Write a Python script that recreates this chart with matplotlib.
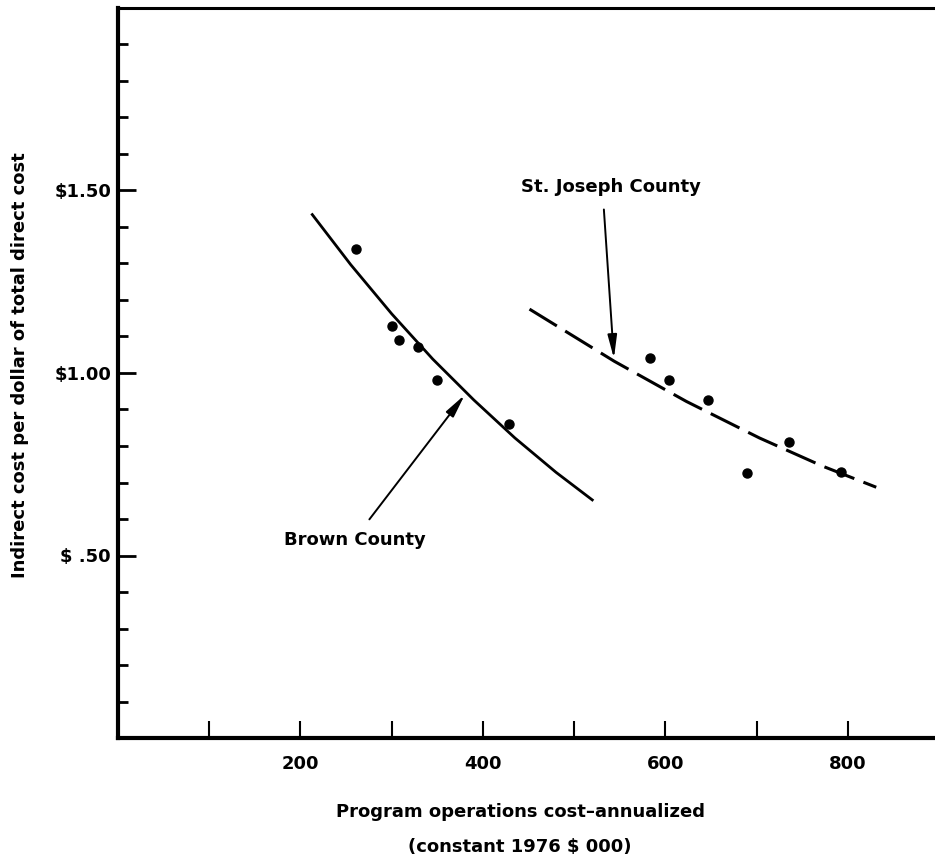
import numpy as np
import matplotlib
matplotlib.use("Agg")
import matplotlib.pyplot as plt

# observed points
brown_x = [261, 300, 308, 329, 350, 428]
brown_y = [1.34, 1.13, 1.09, 1.07, 0.98, 0.86]
stjoe_x = [583, 604, 647, 689, 735, 792]
stjoe_y = [1.04, 0.98, 0.925, 0.725, 0.81, 0.73]

# fitted curves
brown_fit_x = [212, 255, 300, 345, 390, 435, 480, 521]
brown_fit_y = [1.437, 1.297, 1.162, 1.038, 0.926, 0.822, 0.728, 0.650]
stjoe_fit_x = [451, 544, 623, 703, 772, 831]
stjoe_fit_y = [1.175, 1.032, 0.922, 0.822, 0.745, 0.687]

x_ticks = [100, 200, 300, 400, 500, 600, 700, 800]
x_labels = ["", "200", "", "400", "", "600", "", "800"]
y_major = [0.5, 1.0, 1.5]
y_labels = ["$ .50", "$1.00", "$1.50"]
y_minor = [0.1, 0.2, 0.3, 0.4, 0.6, 0.7, 0.8, 0.9, 1.1, 1.2, 1.3, 1.4, 1.6, 1.7, 1.8, 1.9]

plt.rcParams["font.family"] = ["DejaVu Sans"]
plt.rcParams["font.weight"] = "bold"

fig = plt.figure(figsize=(9.35, 8.59), dpi=100)
ax = fig.add_axes([118 / 935, 121 / 859, 817 / 935, 730 / 859])

ax.plot(brown_fit_x, brown_fit_y, color="black", lw=2.0, solid_capstyle="butt")
ax.plot(stjoe_fit_x, stjoe_fit_y, color="black", lw=2.2, dashes=(10.5, 3.2),
        dash_capstyle="butt")
ax.plot(brown_x, brown_y, "o", color="black", ms=6.5)
ax.plot(stjoe_x, stjoe_y, "o", color="black", ms=6.5)

arrow = dict(arrowstyle="-|>,head_length=1.0,head_width=0.2", color="black",
             lw=1.4, shrinkA=0, shrinkB=0, mutation_scale=14)
ax.annotate("", xy=(380, 0.94), xytext=(275.5, 0.599), arrowprops=arrow)
ax.annotate("", xy=(543.5, 1.040), xytext=(532.5, 1.448), arrowprops=arrow)
ax.text(260, 0.5425, "Brown County", ha="center", va="center", fontsize=13)
ax.text(540, 1.51, "St. Joseph County", ha="center", va="center", fontsize=13)

ax.set_xlim(0, 895.4)
ax.set_ylim(0, 2.0)
ax.set_xticks(x_ticks)
ax.set_xticklabels(x_labels)
ax.set_yticks(y_major)
ax.set_yticklabels(y_labels)
ax.set_yticks(y_minor, minor=True)

ax.tick_params(axis="x", direction="in", length=12, width=1.5, pad=12,
               labelsize=13)
ax.tick_params(axis="y", which="major", direction="in", length=13, width=2,
               pad=5, labelsize=13)
ax.tick_params(axis="y", which="minor", direction="in", length=7, width=2)

ax.spines["right"].set_visible(False)
ax.spines["left"].set_linewidth(3)
ax.spines["bottom"].set_linewidth(3)
ax.spines["top"].set_linewidth(2.2)

fig.text(20 / 935, 1 - 365 / 859, "Indirect cost per dollar of total direct cost",
         rotation=90, ha="center", va="center", fontsize=13)
fig.text(520 / 935, 1 - 812 / 859, "Program operations cost\u2013annualized",
         ha="center", va="center", fontsize=13)
fig.text(520 / 935, 1 - 847 / 859, "(constant 1976 $ 000)",
         ha="center", va="center", fontsize=13)

fig.savefig("out.png", dpi=100)
